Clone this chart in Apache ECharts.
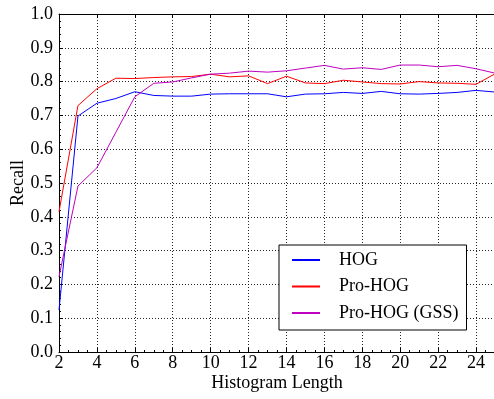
<!DOCTYPE html>
<html>
<head>
<meta charset="utf-8">
<script src="https://cdn.jsdelivr.net/npm/echarts@6/dist/echarts.min.js"></script>
<style>
html,body{margin:0;padding:0;background:#fff;}
#chart{width:494px;height:399px;}
</style>
</head>
<body>
<div id="chart"></div>
<script>
var histLength = [2,3,4,5,6,7,8,9,10,11,12,13,14,15,16,17,18,19,20,21,22,23,24,25];
var hog = [0.124,0.698,0.736,0.750,0.770,0.759,0.757,0.757,0.763,0.764,0.764,0.764,0.755,0.763,0.764,0.768,0.765,0.771,0.764,0.763,0.765,0.768,0.774,0.769];
var proHog = [0.415,0.729,0.779,0.810,0.809,0.812,0.814,0.815,0.822,0.814,0.817,0.794,0.816,0.796,0.794,0.804,0.799,0.794,0.793,0.800,0.796,0.795,0.792,0.823];
var proHogGss = [0.223,0.491,0.545,0.650,0.755,0.795,0.799,0.811,0.822,0.825,0.831,0.828,0.832,0.840,0.848,0.837,0.841,0.836,0.849,0.849,0.844,0.848,0.838,0.825];
var seriesNames = ['HOG','Pro-HOG','Pro-HOG (GSS)'];
var colors = ['#0000ff','#ff0000','#bf00bf'];

function pairs(ys){ return histLength.map(function(x,i){ return [x, ys[i]]; }); }
var font = 'Liberation Serif, Times New Roman, serif';
var chart = echarts.init(document.getElementById('chart'), null, {renderer:'canvas'});
var gridLine = {show:true, lineStyle:{color:'#000', width:1, type:[1,2], opacity:0.85}};
chart.setOption({
  animation:false,
  backgroundColor:'#fff',
  grid:{left:59, top:14, right:-1, bottom:47, containLabel:false, outerBoundsMode:'none'},
  xAxis:[{
    type:'value', min:2, max:25, interval:2,
    name:'Histogram Length', nameLocation:'middle', nameGap:22, nameMoveOverlap:false,
    nameTextStyle:{fontFamily:font, fontSize:18, color:'#000'},
    axisLine:{show:true, onZero:false, lineStyle:{color:'#000', width:1}},
    axisTick:{show:true, inside:true, length:4, lineStyle:{color:'#000'}},
    minorTick:{show:true, splitNumber:4, length:2, lineStyle:{color:'#000'}},
    axisLabel:{fontFamily:font, fontSize:18, color:'#000', margin:2, showMaxLabel:false},
    splitLine:gridLine
  },{
    type:'value', min:2, max:25, interval:2, position:'top',
    axisLine:{show:true, onZero:false, lineStyle:{color:'#000', width:1}},
    axisTick:{show:true, inside:true, length:4, lineStyle:{color:'#000'}},
    axisLabel:{show:false}, splitLine:{show:false}
  }],
  yAxis:{
    type:'value', min:0, max:1, interval:0.1,
    name:'Recall', nameLocation:'middle', nameGap:32, nameMoveOverlap:false,
    nameTextStyle:{fontFamily:font, fontSize:18, color:'#000'},
    axisLine:{show:true, onZero:false, lineStyle:{color:'#000', width:1}},
    axisTick:{show:true, inside:true, length:4, lineStyle:{color:'#000'}},
    minorTick:{show:true, splitNumber:5, length:2, lineStyle:{color:'#000'}},
    axisLabel:{fontFamily:font, fontSize:18, color:'#000', margin:6,
      formatter:function(v){ return v.toFixed(1); }},
    splitLine:gridLine
  },
  legend:{
    orient:'vertical', left:279, top:245,
    backgroundColor:'#fff', borderColor:'#000', borderWidth:1, borderRadius:0,
    padding:[6,8,8,13], itemGap:8.5, itemWidth:28, itemHeight:2,
    icon:'rect',
    textStyle:{fontFamily:font, fontSize:18, color:'#000', padding:[0,0,0,14], lineHeight:18},
    data:seriesNames
  },
  series:seriesNames.map(function(n,i){
    return {
      name:n, type:'line', data:pairs([hog,proHog,proHogGss][i]),
      showSymbol:false, symbol:'none', color:colors[i],
      lineStyle:{color:colors[i], width:1}, z:3+i
    };
  })
});
</script>
</body>
</html>
